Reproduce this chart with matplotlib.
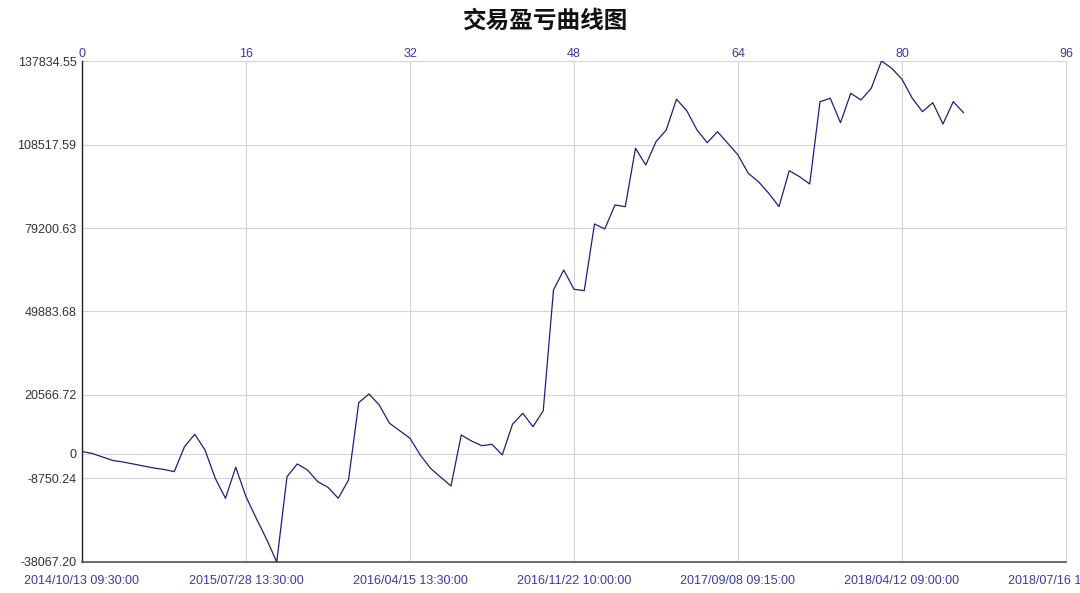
import matplotlib
matplotlib.use("Agg")
import matplotlib.pyplot as plt

# ---- data ----
trade_index = list(range(87))
pnl = [740, 35, -1190, -2420, -2950, -3650, -4350, -5060, -5580, -6350,
       2420, 6780, 1260, -8670, -15700, -4810, -15130, -22720, -30000, -38067.20,
       -8110, -3650, -5760, -9860, -11840, -15700, -9270, 17870, 20930, 17060,
       10640, 8040, 5370, -490, -5160, -8320, -11370, 6530, 4420, 2770,
       3260, -490, 10290, 14150, 9440, 15060, 57440, 64460, 57690, 57200,
       80610, 78860, 87280, 86690, 107190, 101330, 109510, 113620, 124400, 120400,
       113620, 109160, 113030, 108950, 104840, 98410, 95460, 91390, 86690, 99320,
       97220, 94660, 123550, 124750, 116180, 126500, 124150, 128260, 137834.55, 135280,
       131420, 124750, 120040, 123200, 115720, 123550, 119690]

y_ticks = [-38067.20, -8750.24, 0, 20566.72, 49883.68, 79200.63, 108517.59, 137834.55]
y_tick_labels = ["-38067.20", "-8750.24", "0", "20566.72", "49883.68", "79200.63", "108517.59", "137834.55"]
x_ticks = [0, 16, 32, 48, 64, 80, 96]
date_labels = ["2014/10/13 09:30:00", "2015/07/28 13:30:00", "2016/04/15 13:30:00",
               "2016/11/22 10:00:00", "2017/09/08 09:15:00", "2018/04/12 09:00:00",
               "2018/07/16 14:00:00"]
title = "交易盈亏曲线图"

# ---- plot ----
plt.rcParams['font.family'] = ['Liberation Sans', 'DejaVu Sans']
fig = plt.figure(figsize=(10.8, 5.93), dpi=100)
ax = fig.add_axes([82/1080, 1-562/593, (1066-82)/1080, (562-61)/593])

line_color = "#1f1f78"
blue = "#3a3aa0"
grid_color = "#d4d4dc"

ax.plot(trade_index, pnl, color=line_color, lw=0.9, zorder=3)
ax.set_xlim(0, 96)
ax.set_ylim(y_ticks[0], y_ticks[-1])

ax.set_yticks(y_ticks)
ax.set_yticklabels(y_tick_labels, fontsize=9, color="#333333")
ax.set_xticks(x_ticks)
ax.set_xticklabels(date_labels, fontsize=9, color=blue)
ax.tick_params(axis='y', length=0, pad=4)
ax.tick_params(axis='x', length=0, pad=9)
ax.grid(True, color=grid_color, lw=0.8, zorder=0)
for g in ax.get_xgridlines() + ax.get_ygridlines():
    g.set_clip_on(False)

for s in ["top", "right"]:
    ax.spines[s].set_visible(False)
ax.spines["left"].set_color("#222222")
ax.spines["left"].set_linewidth(1.0)
ax.spines["bottom"].set_color("#555555")
ax.spines["bottom"].set_linewidth(1.2)

top = ax.twiny()
top.set_xlim(0, 96)
top.set_xticks(x_ticks)
top.set_xticklabels([str(v) for v in x_ticks], fontsize=9, color=blue)
top.tick_params(axis='x', length=0, pad=1)
for s in top.spines.values():
    s.set_visible(False)

fig.text(0.505, 1-21/593, title, ha="center", va="center", fontsize=17,
         fontweight="heavy", family=["Noto Sans CJK SC", "DejaVu Sans"], color="#111111")

fig.savefig("out.png", dpi=100)
